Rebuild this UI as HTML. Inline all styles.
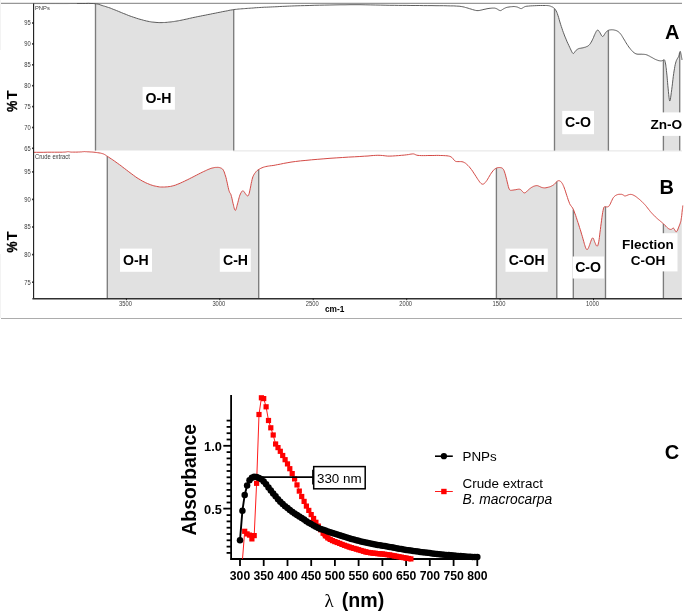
<!DOCTYPE html>
<html><head><meta charset="utf-8"><title>FTIR and UV-Vis</title>
<style>
html,body{margin:0;padding:0;background:#fff;}
svg{display:block;font-family:"Liberation Sans",sans-serif;}
.lab{font-weight:bold;font-size:14.1px;fill:#000;}
.big{font-weight:bold;font-size:20px;fill:#000;}
.tiny{font-size:6.4px;fill:#3c3c3c;}
.ct{font-weight:bold;font-size:11.3px;fill:#000;}
.lg{font-size:13.4px;fill:#000;}
</style></head><body>
<svg width="685" height="613" viewBox="0 0 685 613">
<rect width="685" height="613" fill="#fff"/>
<!-- frame lines -->
<line x1="1" y1="3.45" x2="682" y2="3.45" stroke="#979797" stroke-width="1.25"/>
<line x1="1" y1="318.5" x2="682" y2="318.5" stroke="#acacac" stroke-width="1.2"/>
<line x1="0.5" y1="0" x2="0.5" y2="50" stroke="#f3f3f3" stroke-width="1"/>
<line x1="0.5" y1="254" x2="0.5" y2="318" stroke="#f3f3f3" stroke-width="1"/>
<line x1="233" y1="150.9" x2="682" y2="150.9" stroke="#e4e4e4" stroke-width="1"/>
<!-- shaded regions -->
<polygon points="95.5,3.7 96.0,3.8 96.5,3.8 97.0,3.9 97.5,4.0 98.0,4.1 98.5,4.2 99.0,4.4 99.5,4.6 100.0,4.7 100.5,4.9 101.0,5.1 101.5,5.3 102.0,5.5 102.5,5.6 103.0,5.8 103.5,6.0 104.0,6.1 104.5,6.3 105.0,6.4 105.6,6.6 106.1,6.7 106.6,6.9 107.1,7.0 107.6,7.2 108.1,7.4 108.6,7.5 109.1,7.7 109.6,7.9 110.1,8.1 110.6,8.2 111.1,8.4 111.6,8.6 112.1,8.8 112.6,9.0 113.1,9.2 113.6,9.4 114.1,9.6 114.6,9.8 115.1,10.0 115.6,10.2 116.1,10.4 116.6,10.6 117.1,10.8 117.6,11.0 118.1,11.2 118.6,11.4 119.1,11.6 119.6,11.8 120.1,12.1 120.6,12.3 121.1,12.5 121.6,12.7 122.1,12.9 122.6,13.1 123.1,13.3 123.6,13.5 124.1,13.7 124.6,13.9 125.2,14.1 125.7,14.3 126.2,14.5 126.7,14.7 127.2,14.9 127.7,15.1 128.2,15.3 128.7,15.5 129.2,15.7 129.7,15.9 130.2,16.0 130.7,16.2 131.2,16.4 131.7,16.6 132.2,16.8 132.7,16.9 133.2,17.1 133.7,17.3 134.2,17.5 134.7,17.6 135.2,17.8 135.7,18.0 136.2,18.1 136.7,18.3 137.2,18.4 137.7,18.6 138.2,18.8 138.7,18.9 139.2,19.0 139.7,19.2 140.2,19.3 140.7,19.5 141.2,19.6 141.7,19.8 142.2,19.9 142.7,20.0 143.2,20.2 143.7,20.3 144.2,20.4 144.7,20.5 145.3,20.7 145.8,20.8 146.3,20.9 146.8,21.0 147.3,21.1 147.8,21.2 148.3,21.3 148.8,21.4 149.3,21.5 149.8,21.6 150.3,21.7 150.8,21.8 151.3,21.9 151.8,22.0 152.3,22.0 152.8,22.1 153.3,22.1 153.8,22.2 154.3,22.3 154.8,22.3 155.3,22.3 155.8,22.4 156.3,22.4 156.8,22.5 157.3,22.5 157.8,22.5 158.3,22.5 158.8,22.6 159.3,22.6 159.8,22.6 160.3,22.6 160.8,22.6 161.3,22.6 161.8,22.6 162.3,22.6 162.8,22.5 163.3,22.5 163.8,22.5 164.3,22.5 164.9,22.4 165.4,22.4 165.9,22.4 166.4,22.3 166.9,22.3 167.4,22.2 167.9,22.2 168.4,22.2 168.9,22.1 169.4,22.1 169.9,22.0 170.4,21.9 170.9,21.9 171.4,21.8 171.9,21.8 172.4,21.7 172.9,21.6 173.4,21.6 173.9,21.5 174.4,21.4 174.9,21.3 175.4,21.3 175.9,21.2 176.4,21.1 176.9,21.0 177.4,20.9 177.9,20.8 178.4,20.7 178.9,20.6 179.4,20.5 179.9,20.4 180.4,20.3 180.9,20.2 181.4,20.1 181.9,20.0 182.4,19.9 182.9,19.8 183.4,19.7 183.9,19.6 184.5,19.5 185.0,19.4 185.5,19.3 186.0,19.2 186.5,19.1 187.0,19.0 187.5,18.9 188.0,18.7 188.5,18.6 189.0,18.5 189.5,18.4 190.0,18.3 190.5,18.2 191.0,18.1 191.5,18.0 192.0,17.8 192.5,17.7 193.0,17.6 193.5,17.5 194.0,17.4 194.5,17.3 195.0,17.2 195.5,17.1 196.0,17.0 196.5,16.9 197.0,16.8 197.5,16.7 198.0,16.6 198.5,16.5 199.0,16.4 199.5,16.3 200.0,16.2 200.5,16.1 201.0,16.0 201.5,15.9 202.0,15.8 202.5,15.7 203.0,15.6 203.5,15.5 204.0,15.4 204.6,15.3 205.1,15.2 205.6,15.1 206.1,15.0 206.6,14.9 207.1,14.8 207.6,14.7 208.1,14.6 208.6,14.5 209.1,14.4 209.6,14.3 210.1,14.2 210.6,14.1 211.1,14.0 211.6,13.9 212.1,13.8 212.6,13.7 213.1,13.6 213.6,13.5 214.1,13.4 214.6,13.3 215.1,13.2 215.6,13.1 216.1,13.0 216.6,12.9 217.1,12.8 217.6,12.7 218.1,12.6 218.6,12.5 219.1,12.4 219.6,12.3 220.1,12.2 220.6,12.1 221.1,12.0 221.6,11.9 222.1,11.8 222.6,11.7 223.1,11.6 223.6,11.5 224.2,11.4 224.7,11.3 225.2,11.2 225.7,11.1 226.2,11.0 226.7,10.9 227.2,10.8 227.7,10.7 228.2,10.6 228.7,10.5 229.2,10.4 229.7,10.3 230.2,10.2 230.7,10.1 231.2,10.0 231.7,9.9 232.2,9.9 232.7,9.8 233.2,9.7 233.7,9.6 233.7,150.6 95.5,150.6" fill="#e1e1e1"/>
<line x1="95.5" y1="3.7" x2="95.5" y2="150.6" stroke="#7c7c7c" stroke-width="1.35"/>
<line x1="233.7" y1="9.6" x2="233.7" y2="150.6" stroke="#7c7c7c" stroke-width="1.35"/>
<polygon points="554.5,8.6 555.0,9.2 555.5,9.9 556.0,10.7 556.5,11.7 557.0,12.9 557.6,14.2 558.1,15.7 558.6,17.3 559.1,19.1 559.6,20.8 560.1,22.5 560.6,24.3 561.1,25.9 561.6,27.5 562.1,29.0 562.6,30.5 563.1,31.9 563.7,33.3 564.2,34.6 564.7,35.9 565.2,37.2 565.7,38.4 566.2,39.6 566.7,40.8 567.2,41.9 567.7,43.1 568.2,44.2 568.7,45.3 569.2,46.4 569.8,47.4 570.3,48.5 570.8,49.6 571.3,50.7 571.8,51.7 572.3,52.6 572.8,53.3 573.3,53.5 573.8,53.2 574.3,52.7 574.8,51.9 575.3,51.2 575.9,50.6 576.4,50.1 576.9,49.7 577.4,49.3 577.9,49.0 578.4,48.8 578.9,48.6 579.4,48.4 579.9,48.3 580.4,48.2 580.9,48.1 581.5,48.1 582.0,48.0 582.5,47.9 583.0,47.8 583.5,47.6 584.0,47.5 584.5,47.4 585.0,47.2 585.5,47.1 586.0,46.9 586.5,46.7 587.0,46.5 587.6,46.2 588.1,45.9 588.6,45.5 589.1,45.1 589.6,44.5 590.1,43.9 590.6,43.1 591.1,42.3 591.6,41.4 592.1,40.4 592.6,39.3 593.1,38.2 593.7,37.1 594.2,35.9 594.7,34.6 595.2,33.5 595.7,32.4 596.2,31.5 596.7,30.7 597.2,30.2 597.7,30.1 598.2,30.3 598.7,30.8 599.2,31.5 599.8,32.3 600.3,33.2 600.8,34.1 601.3,35.0 601.8,35.8 602.3,36.3 602.8,36.4 603.3,36.1 603.8,35.5 604.3,34.7 604.8,33.8 605.3,33.1 605.9,32.4 606.4,31.8 606.9,31.3 607.4,30.9 607.9,30.5 608.4,30.3 608.4,150.6 554.5,150.6" fill="#e1e1e1"/>
<line x1="554.5" y1="8.6" x2="554.5" y2="150.6" stroke="#7c7c7c" stroke-width="1.35"/>
<line x1="608.4" y1="30.3" x2="608.4" y2="150.6" stroke="#7c7c7c" stroke-width="1.35"/>
<polygon points="663.4,60.0 663.9,59.7 664.5,60.0 665.0,61.2 665.5,63.5 666.0,67.0 666.6,71.6 667.1,77.2 667.6,83.0 668.1,88.7 668.7,94.3 669.2,98.7 669.7,100.9 670.2,100.0 670.8,96.8 671.3,92.8 671.8,88.6 672.3,84.3 672.9,79.8 673.4,75.7 673.9,72.0 674.4,68.7 675.0,66.0 675.5,63.6 676.0,61.7 676.5,60.3 677.1,59.2 677.6,58.3 678.1,57.4 678.6,56.2 679.2,54.5 679.7,52.4 679.7,150.6 663.4,150.6" fill="#e1e1e1"/>
<line x1="663.4" y1="60.0" x2="663.4" y2="150.6" stroke="#7c7c7c" stroke-width="1.35"/>
<line x1="679.7" y1="52.4" x2="679.7" y2="150.6" stroke="#7c7c7c" stroke-width="1.35"/>
<polygon points="107.3,156.3 107.8,156.6 108.3,156.9 108.8,157.3 109.3,157.6 109.8,157.9 110.3,158.3 110.8,158.6 111.3,158.9 111.8,159.3 112.3,159.6 112.8,159.9 113.3,160.3 113.8,160.6 114.3,161.0 114.8,161.3 115.3,161.7 115.9,162.0 116.4,162.4 116.9,162.7 117.4,163.1 117.9,163.5 118.4,163.9 118.9,164.2 119.4,164.6 119.9,165.0 120.4,165.4 120.9,165.7 121.4,166.1 121.9,166.5 122.4,166.9 122.9,167.3 123.4,167.6 123.9,168.0 124.4,168.4 124.9,168.8 125.4,169.2 125.9,169.6 126.4,169.9 126.9,170.3 127.4,170.7 127.9,171.1 128.4,171.5 128.9,171.9 129.4,172.2 129.9,172.6 130.4,173.0 130.9,173.4 131.4,173.8 131.9,174.2 132.4,174.5 133.0,174.9 133.5,175.3 134.0,175.6 134.5,176.0 135.0,176.4 135.5,176.7 136.0,177.0 136.5,177.4 137.0,177.7 137.5,178.1 138.0,178.4 138.5,178.7 139.0,179.0 139.5,179.3 140.0,179.6 140.5,179.9 141.0,180.2 141.5,180.5 142.0,180.8 142.5,181.1 143.0,181.3 143.5,181.6 144.0,181.9 144.5,182.1 145.0,182.4 145.5,182.6 146.0,182.9 146.5,183.1 147.0,183.3 147.5,183.6 148.0,183.8 148.5,184.0 149.0,184.2 149.6,184.4 150.1,184.6 150.6,184.8 151.1,184.9 151.6,185.1 152.1,185.3 152.6,185.4 153.1,185.6 153.6,185.7 154.1,185.9 154.6,186.0 155.1,186.1 155.6,186.2 156.1,186.3 156.6,186.4 157.1,186.5 157.6,186.6 158.1,186.7 158.6,186.8 159.1,186.8 159.6,186.9 160.1,186.9 160.6,187.0 161.1,187.0 161.6,187.0 162.1,187.0 162.6,187.0 163.1,187.0 163.6,187.0 164.1,187.0 164.6,187.0 165.1,186.9 165.6,186.9 166.1,186.9 166.7,186.8 167.2,186.8 167.7,186.8 168.2,186.7 168.7,186.7 169.2,186.6 169.7,186.5 170.2,186.4 170.7,186.4 171.2,186.2 171.7,186.1 172.2,186.0 172.7,185.9 173.2,185.8 173.7,185.6 174.2,185.5 174.7,185.3 175.2,185.2 175.7,185.0 176.2,184.8 176.7,184.6 177.2,184.4 177.7,184.2 178.2,184.0 178.7,183.8 179.2,183.6 179.7,183.4 180.2,183.2 180.7,182.9 181.2,182.7 181.7,182.5 182.2,182.2 182.7,182.0 183.3,181.8 183.8,181.5 184.3,181.3 184.8,181.1 185.3,180.8 185.8,180.6 186.3,180.3 186.8,180.1 187.3,179.8 187.8,179.6 188.3,179.3 188.8,179.1 189.3,178.8 189.8,178.6 190.3,178.3 190.8,178.1 191.3,177.8 191.8,177.5 192.3,177.3 192.8,177.0 193.3,176.8 193.8,176.5 194.3,176.3 194.8,176.0 195.3,175.7 195.8,175.5 196.3,175.2 196.8,175.0 197.3,174.7 197.8,174.5 198.3,174.2 198.8,173.9 199.3,173.7 199.9,173.4 200.4,173.2 200.9,172.9 201.4,172.7 201.9,172.4 202.4,172.2 202.9,171.9 203.4,171.7 203.9,171.4 204.4,171.2 204.9,171.0 205.4,170.7 205.9,170.5 206.4,170.3 206.9,170.0 207.4,169.8 207.9,169.6 208.4,169.4 208.9,169.2 209.4,169.0 209.9,168.8 210.4,168.6 210.9,168.4 211.4,168.3 211.9,168.1 212.4,168.0 212.9,167.9 213.4,167.8 213.9,167.7 214.4,167.6 214.9,167.5 215.4,167.4 215.9,167.4 216.4,167.3 217.0,167.3 217.5,167.3 218.0,167.4 218.5,167.4 219.0,167.5 219.5,167.6 220.0,167.7 220.5,167.9 221.0,168.1 221.5,168.3 222.0,168.6 222.5,169.0 223.0,169.6 223.5,170.4 224.0,171.5 224.5,172.8 225.0,174.3 225.5,176.0 226.0,177.8 226.5,179.8 227.0,182.0 227.5,184.3 228.0,186.7 228.5,188.9 229.0,190.8 229.5,192.1 230.0,193.0 230.5,193.8 231.0,195.0 231.5,196.7 232.0,198.8 232.5,201.1 233.0,203.4 233.6,205.5 234.1,207.5 234.6,209.2 235.1,210.2 235.6,210.2 236.1,209.1 236.6,207.4 237.1,205.5 237.6,203.5 238.1,201.5 238.6,199.5 239.1,197.7 239.6,196.1 240.1,194.7 240.6,193.6 241.1,192.6 241.6,191.7 242.1,191.1 242.6,190.9 243.1,190.9 243.6,191.3 244.1,191.8 244.6,192.4 245.1,193.2 245.6,194.0 246.1,194.7 246.6,195.4 247.1,195.8 247.6,196.0 248.1,195.7 248.6,194.8 249.1,193.4 249.6,191.5 250.1,189.1 250.7,186.5 251.2,183.8 251.7,181.3 252.2,179.2 252.7,177.5 253.2,176.2 253.7,175.1 254.2,174.3 254.7,173.5 255.2,172.8 255.7,172.1 256.2,171.6 256.7,171.0 257.2,170.6 257.7,170.2 258.2,169.8 258.7,169.5 258.7,298.6 107.3,298.6" fill="#e1e1e1"/>
<line x1="107.3" y1="156.3" x2="107.3" y2="298.6" stroke="#7c7c7c" stroke-width="1.35"/>
<line x1="258.7" y1="169.5" x2="258.7" y2="298.6" stroke="#7c7c7c" stroke-width="1.35"/>
<polygon points="496.4,168.1 496.9,167.9 497.4,167.8 497.9,167.7 498.4,167.6 498.9,167.5 499.4,167.5 500.0,167.5 500.5,167.6 501.0,167.7 501.5,167.8 502.0,168.1 502.5,168.4 503.0,168.8 503.5,169.5 504.0,170.5 504.5,171.9 505.0,173.6 505.5,175.4 506.0,177.3 506.6,179.3 507.1,181.4 507.6,183.5 508.1,185.5 508.6,187.2 509.1,188.7 509.6,189.8 510.1,190.2 510.6,190.3 511.1,190.3 511.6,190.3 512.1,190.2 512.6,190.2 513.1,190.1 513.7,190.0 514.2,189.9 514.7,189.8 515.2,189.7 515.7,189.7 516.2,189.6 516.7,189.5 517.2,189.4 517.7,189.3 518.2,189.2 518.7,189.2 519.2,189.2 519.7,189.2 520.3,189.4 520.8,189.7 521.3,190.1 521.8,190.7 522.3,191.3 522.8,191.9 523.3,192.4 523.8,192.7 524.3,192.9 524.8,192.8 525.3,192.6 525.8,192.3 526.3,191.8 526.9,191.4 527.4,190.8 527.9,190.3 528.4,189.9 528.9,189.4 529.4,189.0 529.9,188.6 530.4,188.2 530.9,187.9 531.4,187.5 531.9,187.2 532.4,186.9 532.9,186.7 533.5,186.4 534.0,186.2 534.5,186.0 535.0,185.9 535.5,185.7 536.0,185.7 536.5,185.6 537.0,185.6 537.5,185.7 538.0,185.8 538.5,186.0 539.0,186.2 539.5,186.4 540.1,186.7 540.6,186.9 541.1,187.2 541.6,187.4 542.1,187.5 542.6,187.7 543.1,187.8 543.6,187.9 544.1,187.9 544.6,187.9 545.1,187.8 545.6,187.8 546.1,187.7 546.6,187.6 547.2,187.5 547.7,187.4 548.2,187.3 548.7,187.1 549.2,187.0 549.7,186.8 550.2,186.6 550.7,186.4 551.2,186.2 551.7,186.0 552.2,185.7 552.7,185.4 553.2,185.0 553.8,184.7 554.3,184.3 554.8,183.8 555.3,183.4 555.8,182.8 556.3,182.1 556.8,181.6 556.8,298.6 496.4,298.6" fill="#e1e1e1"/>
<line x1="496.4" y1="168.1" x2="496.4" y2="298.6" stroke="#7c7c7c" stroke-width="1.35"/>
<line x1="556.8" y1="181.6" x2="556.8" y2="298.6" stroke="#7c7c7c" stroke-width="1.35"/>
<polygon points="573.3,209.4 573.8,210.6 574.3,211.9 574.8,213.2 575.3,214.7 575.9,216.2 576.4,217.7 576.9,219.2 577.4,220.8 577.9,222.3 578.4,223.9 578.9,225.5 579.4,227.1 579.9,228.7 580.5,230.4 581.0,232.0 581.5,233.7 582.0,235.4 582.5,237.1 583.0,238.9 583.5,240.8 584.0,242.6 584.5,244.4 585.1,246.0 585.6,247.4 586.1,248.6 586.6,249.4 587.1,249.6 587.6,249.2 588.1,248.4 588.6,247.4 589.1,246.2 589.7,244.8 590.2,243.3 590.7,241.8 591.2,240.3 591.7,239.1 592.2,238.2 592.7,237.9 593.2,238.3 593.7,239.3 594.3,240.7 594.8,242.1 595.3,243.4 595.8,244.5 596.3,245.5 596.8,246.1 597.3,246.1 597.8,245.3 598.3,243.7 598.9,241.1 599.4,237.6 599.9,233.5 600.4,229.3 600.9,225.3 601.4,221.5 601.9,217.7 602.4,214.2 602.9,211.0 603.5,208.6 604.0,207.2 604.5,206.8 605.0,206.6 605.5,206.7 605.5,298.6 573.3,298.6" fill="#e1e1e1"/>
<line x1="573.3" y1="209.4" x2="573.3" y2="298.6" stroke="#7c7c7c" stroke-width="1.35"/>
<line x1="605.5" y1="206.7" x2="605.5" y2="298.6" stroke="#7c7c7c" stroke-width="1.35"/>
<polygon points="663.4,223.8 663.9,224.3 664.5,224.8 665.0,225.3 665.5,225.9 666.0,226.4 666.6,226.9 667.1,227.4 667.6,227.9 668.1,228.4 668.7,228.7 669.2,229.0 669.7,229.2 670.2,229.3 670.8,229.4 671.3,229.3 671.8,229.1 672.3,228.6 672.9,228.2 673.4,228.1 673.9,228.6 674.4,229.4 675.0,230.3 675.5,231.2 676.0,231.6 676.5,231.6 677.1,231.0 677.6,230.0 678.1,228.6 678.6,227.3 679.2,225.9 679.7,224.6 680.2,223.1 680.7,221.3 681.3,218.7 681.8,214.6 681.8,298.6 663.4,298.6" fill="#e1e1e1"/>
<line x1="663.4" y1="223.8" x2="663.4" y2="298.6" stroke="#7c7c7c" stroke-width="1.35"/>
<!-- curves -->
<polyline points="33.6,3.6 37.2,3.6 41.2,3.6 45.8,3.6 50.6,3.6 55.3,3.6 59.6,3.6 63.6,3.6 67.2,3.6 70.6,3.5 73.8,3.5 76.9,3.5" fill="none" stroke="#555" stroke-width="0.9" opacity="0.45"/><polyline points="76.9,3.5 80.0,3.5 82.9,3.5 85.7,3.5 88.5,3.4 91.0,3.5 93.2,3.5 95.2,3.7 96.8,3.9 98.1,4.1 99.1,4.4 100.1,4.8 101.0,5.1 102.1,5.5 103.3,5.9 104.5,6.2 105.8,6.6 107.2,7.1 108.6,7.5 110.1,8.0 111.6,8.6 113.2,9.3 114.9,9.9 116.6,10.6 118.3,11.3 120.0,12.0 121.7,12.7 123.3,13.4 125.0,14.0 126.7,14.7 128.3,15.4 130.0,16.0 131.7,16.6 133.4,17.2 135.0,17.7 136.7,18.3 138.4,18.8 140.0,19.3 141.7,19.7 143.3,20.2 144.9,20.6 146.5,21.0 148.0,21.3 149.4,21.6 150.7,21.8 151.8,22.0 152.9,22.1 154.0,22.2 155.0,22.3 156.0,22.4 157.0,22.5 158.0,22.5 158.9,22.6 159.9,22.6 161.0,22.6 162.1,22.6 163.3,22.5 164.6,22.5 165.9,22.4 167.3,22.3 168.7,22.1 169.9,22.0 171.2,21.9 172.3,21.7 173.5,21.6 174.6,21.4 175.8,21.2 177.0,21.0 178.3,20.8 179.6,20.5 180.9,20.3 182.2,20.0 183.6,19.7 185.0,19.4 186.5,19.1 187.9,18.8 189.4,18.4 190.9,18.1 192.5,17.7 194.0,17.4 195.6,17.1 197.3,16.7 198.9,16.4 200.6,16.1 202.3,15.7 204.0,15.4 205.7,15.1 207.3,14.7 209.0,14.4 210.7,14.1 212.3,13.7 214.0,13.4 215.7,13.1 217.3,12.7 219.0,12.4 220.7,12.1 222.3,11.7 224.0,11.4 225.7,11.1 227.3,10.8 228.9,10.4 230.6,10.1 232.1,9.9 233.7,9.6 235.1,9.4 236.6,9.3 237.9,9.1 239.3,9.0 240.6,8.9 242.0,8.8 243.3,8.7 244.6,8.6 245.9,8.5 247.2,8.4 248.6,8.3 250.1,8.2 251.6,8.1 253.2,8.0 254.9,7.8 256.6,7.7 258.3,7.6 259.9,7.5 261.6,7.4 263.1,7.3 264.7,7.2 266.4,7.2 268.2,7.1 270.2,7.0 272.4,6.9 274.7,6.8 277.2,6.7 279.8,6.5 282.4,6.4 284.9,6.3 287.2,6.2 289.4,6.1 291.7,6.0 294.2,5.9 297.1,5.8 300.5,5.7 304.6,5.6 309.2,5.5 314.2,5.3 319.4,5.2 324.7,5.1 329.9,5.0 335.0,4.9 340.0,4.8 345.0,4.8 350.0,4.7 355.0,4.7 360.0,4.7 365.1,4.8 370.2,4.9 375.3,5.0 380.3,5.1 385.1,5.2 389.8,5.3 394.3,5.3 398.6,5.4 402.8,5.4 406.9,5.4 410.9,5.5 415.1,5.5 419.3,5.5 423.5,5.6 427.8,5.6 432.0,5.6 436.0,5.7 439.9,5.7 443.6,5.7 447.2,5.8 450.6,5.9 453.8,5.9 456.7,6.1 459.1,6.2 461.2,6.5 462.9,6.8 464.3,7.1 465.5,7.5 466.8,7.8 468.1,8.2 469.6,8.7 471.1,9.1 472.6,9.6 474.1,10.0 475.6,10.4 476.9,10.6 478.1,10.6 479.2,10.5 480.2,10.3 481.1,10.1 482.1,9.9 483.0,9.6 484.0,9.4 485.0,9.2 486.0,9.0 487.0,8.7 488.0,8.6 489.0,8.4 490.1,8.3 491.2,8.2 492.3,8.1 493.4,8.1 494.5,8.1 495.4,8.3 496.3,8.6 497.2,9.0 497.9,9.5 498.7,10.0 499.3,10.3 500.0,10.5 500.5,10.6 501.1,10.4 501.5,10.2 502.0,9.9 502.5,9.5 503.0,9.2 503.5,8.9 504.0,8.6 504.6,8.3 505.2,8.0 505.9,7.7 506.8,7.4 507.8,7.2 509.0,7.0 510.3,6.8 511.6,6.7 512.8,6.6 513.9,6.5 514.8,6.6 515.6,6.7 516.2,6.8 516.8,6.9 517.4,7.1 518.0,7.3 518.5,7.6 519.1,7.8 519.6,8.1 520.1,8.4 520.5,8.5 521.0,8.6 521.4,8.6 521.8,8.4 522.2,8.2 522.7,7.9 523.1,7.7 523.5,7.4 523.8,7.2 524.1,7.0 524.5,6.8 525.0,6.6 525.7,6.4 526.9,6.2 528.4,6.1 530.3,5.9 532.4,5.8 534.7,5.7 536.8,5.6 538.9,5.5 540.7,5.5 542.4,5.5 544.0,5.5 545.4,5.5 546.7,5.5 547.8,5.6 548.7,5.7 549.3,5.8 549.9,6.0 550.3,6.1 550.7,6.3 551.1,6.5 551.6,6.7 552.1,6.9 552.7,7.1 553.2,7.4 553.7,7.8 554.2,8.3 554.7,8.8 555.2,9.4 555.7,10.1 556.2,11.0 556.8,12.2 557.3,13.6 557.9,15.3 558.6,17.4 559.2,19.6 559.9,22.0 560.6,24.3 561.3,26.5 562.0,28.5 562.6,30.4 563.3,32.3 564.0,34.1 564.7,36.0 565.5,37.9 566.3,39.8 567.1,41.8 568.0,43.7 568.9,45.6 569.7,47.3 570.4,48.8 571.0,50.1 571.5,51.2 572.0,52.1 572.4,52.8 572.8,53.3 573.2,53.5 573.6,53.4 574.0,53.1 574.4,52.6 574.8,51.9 575.3,51.3 575.7,50.8 576.1,50.3 576.6,49.9 577.1,49.5 577.6,49.2 578.1,48.9 578.8,48.6 579.5,48.4 580.3,48.3 581.1,48.1 582.0,48.0 582.9,47.8 583.8,47.6 584.7,47.3 585.6,47.1 586.4,46.7 587.3,46.4 588.1,45.9 588.8,45.3 589.5,44.6 590.2,43.8 590.7,42.9 591.3,42.0 591.9,40.9 592.4,39.8 593.0,38.6 593.6,37.3 594.1,35.9 594.7,34.6 595.2,33.5 595.7,32.5 596.1,31.7 596.4,31.1 596.8,30.6 597.1,30.3 597.4,30.2 597.7,30.1 598.0,30.2 598.4,30.4 598.7,30.8 599.1,31.2 599.4,31.8 599.8,32.4 600.2,33.1 600.7,34.0 601.2,34.9 601.6,35.7 602.1,36.2 602.6,36.5 603.0,36.4 603.5,36.0 603.9,35.3 604.4,34.6 604.8,33.8 605.3,33.2 605.7,32.6 606.2,32.0 606.7,31.5 607.2,31.0 607.8,30.6 608.5,30.3 609.4,30.0 610.3,29.9 611.3,29.8 612.4,29.8 613.5,29.9 614.5,30.1 615.4,30.3 616.3,30.6 617.2,31.0 618.0,31.5 618.8,32.1 619.6,32.8 620.3,33.6 621.0,34.5 621.7,35.5 622.3,36.5 623.0,37.7 623.7,38.9 624.5,40.1 625.3,41.5 626.1,42.9 627.0,44.3 627.9,45.6 628.8,47.0 629.8,48.2 630.8,49.5 631.8,50.6 632.8,51.7 633.9,52.6 634.9,53.3 635.9,53.8 637.0,54.1 638.0,54.2 639.0,54.2 640.0,54.2 641.0,54.2 641.9,54.2 642.8,54.3 643.7,54.3 644.5,54.4 645.4,54.5 646.2,54.7 647.0,55.0 647.9,55.3 648.7,55.8 649.6,56.2 650.4,56.7 651.3,57.2 652.3,57.7 653.3,58.3 654.4,58.9 655.4,59.4 656.4,59.8 657.4,60.2 658.2,60.5 659.1,60.7 659.8,60.8 660.6,60.9 661.2,60.9 661.8,60.8 662.4,60.6 662.9,60.4 663.3,60.1 663.6,59.8 664.0,59.7 664.3,59.8 664.6,60.1 664.8,60.6 665.0,61.3 665.2,62.1 665.4,63.0 665.6,64.0 665.8,65.1 665.9,66.3 666.1,67.6 666.3,68.9 666.4,70.5 666.6,72.1 666.8,74.0 667.0,75.9 667.2,78.1 667.4,80.3 667.6,82.7 667.8,85.3 668.1,88.1 668.4,91.3 668.7,94.4 669.0,97.3 669.3,99.5 669.6,100.8 669.9,101.0 670.1,100.4 670.4,99.1 670.7,97.2 671.0,95.0 671.3,92.5 671.7,89.7 672.1,86.6 672.5,83.2 672.9,79.7 673.3,76.4 673.7,73.5 674.1,70.9 674.5,68.6 674.8,66.6 675.2,64.7 675.6,63.1 676.0,61.7 676.4,60.5 676.9,59.5 677.3,58.7 677.8,58.0 678.2,57.3 678.6,56.5 678.9,55.5 679.2,54.5 679.4,53.4 679.7,52.5 679.9,51.8 680.1,51.4 680.3,51.4 680.5,51.8 680.6,52.3 680.8,53.1 680.9,53.9 681.1,54.7 681.3,55.6 681.4,56.6 681.6,57.5 681.8,58.5 681.9,59.3 682.0,60.0" fill="none" stroke="#555" stroke-width="0.95"/>
<polyline points="33.6,152.3 36.6,152.3 40.0,152.3 43.8,152.3 47.7,152.2 51.3,152.2 54.5,152.2 57.1,152.2 59.2,152.2 61.0,152.2 62.5,152.2 63.7,152.1 64.8,152.1 65.7,152.0 66.4,151.9 66.9,151.8 67.3,151.7 67.6,151.7 68.0,151.6 68.4,151.7 68.8,151.7 69.2,151.8 69.7,151.9 70.3,152.0 71.2,152.1 72.4,152.1 73.9,152.1 75.4,152.1 77.0,152.1 78.5,152.0 79.8,152.0 80.8,151.9 81.6,151.9 82.2,151.8 82.8,151.7 83.4,151.7 84.1,151.6 84.8,151.6 85.6,151.7 86.4,151.7 87.2,151.8 88.1,151.8 89.0,151.9 89.9,151.9 90.9,152.0 91.8,152.0 92.9,152.1 93.9,152.2 95.1,152.3 96.3,152.5 97.7,152.7 99.0,152.9 100.4,153.1 101.6,153.4 102.7,153.7 103.6,154.0 104.4,154.4 105.1,154.8 105.7,155.2 106.5,155.8 107.5,156.4 108.6,157.1 109.9,158.0 111.3,158.9 112.8,159.9 114.4,161.0 116.0,162.2 117.7,163.4 119.4,164.6 121.2,165.9 122.9,167.3 124.7,168.6 126.5,170.0 128.2,171.3 130.0,172.7 131.8,174.0 133.5,175.3 135.3,176.6 137.0,177.8 138.8,178.9 140.5,179.9 142.3,181.0 144.1,181.9 145.8,182.8 147.5,183.5 149.1,184.2 150.7,184.8 152.2,185.3 153.8,185.8 155.2,186.1 156.7,186.4 158.0,186.7 159.4,186.9 160.6,187.0 161.9,187.0 163.3,187.0 164.6,187.0 166.1,186.9 167.5,186.8 169.1,186.6 170.6,186.4 172.2,186.0 173.8,185.6 175.5,185.1 177.2,184.4 179.0,183.7 180.8,182.9 182.5,182.1 184.3,181.3 186.0,180.4 187.8,179.6 189.5,178.7 191.3,177.8 193.1,176.9 194.8,176.0 196.6,175.1 198.5,174.1 200.3,173.2 202.1,172.3 203.7,171.5 205.3,170.8 206.6,170.2 207.8,169.6 208.9,169.2 209.9,168.8 210.9,168.4 211.9,168.1 212.9,167.9 213.8,167.7 214.7,167.5 215.6,167.4 216.4,167.4 217.2,167.3 217.9,167.4 218.6,167.4 219.3,167.5 219.9,167.7 220.5,167.9 221.1,168.1 221.6,168.4 222.0,168.7 222.5,169.0 222.9,169.5 223.3,170.1 223.7,170.9 224.2,171.9 224.6,173.1 225.0,174.5 225.5,176.0 226.0,177.6 226.4,179.3 226.8,181.2 227.3,183.2 227.7,185.3 228.2,187.4 228.6,189.2 229.0,190.7 229.4,191.7 229.7,192.5 230.1,193.0 230.4,193.5 230.8,194.2 231.1,195.2 231.5,196.6 231.9,198.2 232.3,200.1 232.7,201.9 233.1,203.7 233.5,205.2 233.8,206.6 234.1,207.8 234.4,208.9 234.7,209.7 235.0,210.2 235.3,210.4 235.6,210.2 235.9,209.6 236.2,208.8 236.5,207.8 236.8,206.6 237.1,205.3 237.5,203.9 237.9,202.4 238.3,200.8 238.7,199.2 239.1,197.7 239.5,196.3 239.9,195.1 240.4,194.0 240.8,193.1 241.3,192.3 241.7,191.6 242.1,191.2 242.4,190.9 242.8,190.8 243.1,190.9 243.5,191.1 243.8,191.5 244.3,191.9 244.7,192.6 245.2,193.4 245.8,194.2 246.4,195.0 246.9,195.6 247.3,195.9 247.8,196.0 248.1,195.7 248.5,195.2 248.8,194.4 249.2,193.4 249.5,192.0 249.9,190.2 250.3,188.2 250.8,185.8 251.2,183.5 251.7,181.4 252.1,179.5 252.5,178.0 252.9,176.8 253.3,175.8 253.8,175.0 254.2,174.2 254.7,173.4 255.3,172.7 255.8,171.9 256.5,171.2 257.1,170.6 257.9,170.0 258.8,169.4 259.8,168.9 260.8,168.3 262.0,167.8 263.2,167.3 264.5,166.9 265.8,166.6 267.1,166.3 268.4,166.1 269.7,165.9 271.3,165.7 273.1,165.5 275.3,165.1 277.7,164.6 280.5,164.1 283.7,163.4 287.1,162.8 291.0,162.1 295.4,161.5 300.4,160.9 305.9,160.4 311.7,159.8 317.8,159.3 323.9,158.8 330.0,158.3 336.2,157.9 342.4,157.5 348.6,157.1 354.5,156.8 359.8,156.5 364.3,156.2 368.0,156.0 370.9,155.7 373.3,155.5 375.3,155.4 377.2,155.3 379.0,155.3 380.8,155.4 382.5,155.5 384.1,155.7 385.8,155.9 387.7,156.1 389.9,156.1 392.5,156.0 395.4,155.8 398.5,155.6 401.5,155.3 404.3,155.1 406.6,154.8 408.4,154.6 409.8,154.3 410.9,154.1 411.9,154.0 412.7,153.9 413.4,153.9 414.1,154.0 414.7,154.3 415.3,154.6 416.0,154.9 416.8,155.2 418.0,155.4 419.5,155.5 421.4,155.6 423.4,155.6 425.6,155.6 427.8,155.5 430.0,155.5 432.1,155.5 434.2,155.5 436.3,155.4 438.3,155.4 440.3,155.5 442.1,155.5 443.8,155.6 445.5,155.7 447.0,155.8 448.4,156.0 449.7,156.3 450.9,156.8 451.8,157.4 452.6,158.2 453.3,159.1 454.0,160.0 454.7,160.7 455.6,161.3 456.7,161.6 457.9,161.6 459.2,161.6 460.6,161.6 461.9,161.7 463.2,162.0 464.4,162.6 465.6,163.3 466.7,164.3 467.9,165.4 469.1,166.6 470.2,168.0 471.4,169.5 472.6,171.2 473.8,173.1 475.0,174.9 476.1,176.6 477.1,178.2 478.0,179.6 478.9,180.8 479.6,181.9 480.4,182.8 481.1,183.5 481.8,184.0 482.5,184.2 483.2,184.1 483.9,183.8 484.6,183.2 485.3,182.5 486.0,181.6 486.9,180.4 487.7,179.1 488.6,177.5 489.5,176.0 490.4,174.5 491.3,173.1 492.1,172.0 492.9,171.0 493.6,170.1 494.4,169.3 495.3,168.7 496.2,168.2 497.2,167.8 498.3,167.6 499.4,167.5 500.5,167.6 501.5,167.8 502.4,168.3 503.1,168.9 503.6,169.7 504.1,170.7 504.5,171.9 505.0,173.4 505.5,175.1 506.0,177.1 506.6,179.4 507.2,181.9 507.8,184.3 508.3,186.4 508.8,188.1 509.3,189.2 509.6,189.8 510.0,190.2 510.4,190.3 510.8,190.3 511.4,190.3 512.2,190.2 513.1,190.1 514.1,189.9 515.2,189.8 516.1,189.6 517.0,189.4 517.7,189.3 518.4,189.2 519.0,189.2 519.5,189.2 520.1,189.3 520.6,189.6 521.2,190.1 521.8,190.7 522.5,191.5 523.1,192.2 523.7,192.7 524.4,192.9 525.1,192.8 525.8,192.3 526.6,191.6 527.3,190.9 528.1,190.2 528.8,189.5 529.5,188.9 530.3,188.3 531.0,187.8 531.7,187.3 532.5,186.9 533.2,186.5 533.9,186.2 534.6,186.0 535.3,185.8 536.1,185.7 536.8,185.6 537.6,185.7 538.5,186.0 539.4,186.4 540.3,186.8 541.3,187.3 542.4,187.6 543.5,187.8 544.6,187.9 545.9,187.8 547.1,187.5 548.4,187.2 549.5,186.9 550.6,186.5 551.6,186.0 552.4,185.6 553.2,185.1 553.9,184.6 554.5,184.1 555.0,183.6 555.4,183.2 555.8,182.8 556.0,182.4 556.3,182.1 556.5,181.8 556.9,181.5 557.2,181.3 557.6,181.0 558.1,180.8 558.6,180.7 559.0,180.7 559.5,180.8 560.0,181.0 560.5,181.3 560.9,181.7 561.4,182.3 561.9,182.9 562.4,183.7 562.9,184.6 563.3,185.6 563.8,186.7 564.3,188.0 564.8,189.5 565.4,191.1 566.0,193.1 566.7,195.3 567.5,197.6 568.2,199.9 569.0,201.9 569.6,203.6 570.3,204.9 570.9,205.7 571.4,206.4 572.0,207.1 572.6,208.0 573.3,209.3 574.0,211.0 574.7,213.0 575.6,215.3 576.4,217.7 577.2,220.2 578.0,222.6 578.8,225.0 579.5,227.4 580.3,229.7 581.0,232.0 581.6,234.2 582.3,236.3 582.8,238.2 583.3,240.0 583.8,241.7 584.2,243.2 584.6,244.6 585.0,245.8 585.3,246.9 585.7,247.8 586.0,248.5 586.3,249.1 586.7,249.5 587.0,249.6 587.4,249.5 587.7,249.1 588.1,248.5 588.5,247.7 588.9,246.8 589.3,245.7 589.8,244.4 590.3,242.8 590.9,241.2 591.4,239.7 592.0,238.5 592.5,237.9 592.9,238.0 593.4,238.5 593.8,239.5 594.2,240.6 594.6,241.7 595.0,242.7 595.4,243.6 595.7,244.4 596.1,245.1 596.4,245.7 596.8,246.1 597.1,246.2 597.4,246.0 597.7,245.7 598.0,245.0 598.2,244.1 598.5,242.9 598.8,241.4 599.1,239.6 599.4,237.4 599.7,234.9 600.0,232.2 600.4,229.5 600.7,226.7 601.1,223.8 601.5,220.8 601.9,217.7 602.3,214.9 602.7,212.4 603.1,210.4 603.4,208.9 603.6,208.0 603.8,207.4 604.1,207.1 604.3,206.9 604.6,206.7 605.0,206.6 605.3,206.6 605.7,206.7 606.2,206.8 606.6,206.9 607.0,206.9 607.4,206.9 607.8,206.8 608.2,206.7 608.6,206.5 609.0,206.0 609.5,205.3 610.1,204.3 610.7,203.1 611.3,201.6 612.0,200.2 612.6,198.8 613.3,197.7 614.0,196.8 614.7,196.2 615.4,195.6 616.1,195.2 616.8,194.9 617.5,194.6 618.3,194.4 619.1,194.3 619.9,194.3 620.7,194.3 621.5,194.3 622.1,194.5 622.7,194.7 623.2,195.0 623.7,195.3 624.1,195.6 624.6,195.9 625.2,195.9 625.8,195.9 626.5,195.6 627.2,195.3 628.0,195.0 628.7,194.7 629.5,194.5 630.2,194.4 630.9,194.4 631.6,194.5 632.4,194.7 633.1,195.0 633.9,195.4 634.8,195.9 635.8,196.5 636.7,197.2 637.7,198.0 638.7,198.8 639.7,199.6 640.7,200.5 641.7,201.4 642.7,202.4 643.6,203.4 644.6,204.4 645.6,205.5 646.6,206.7 647.5,207.9 648.5,209.2 649.5,210.4 650.4,211.6 651.4,212.7 652.4,213.8 653.4,214.8 654.3,215.8 655.3,216.8 656.3,217.7 657.3,218.6 658.3,219.5 659.4,220.3 660.4,221.2 661.4,222.0 662.4,222.9 663.4,223.7 664.3,224.6 665.1,225.5 666.0,226.3 666.7,227.1 667.5,227.8 668.2,228.4 668.8,228.8 669.4,229.1 669.9,229.3 670.5,229.4 670.9,229.4 671.4,229.3 671.8,229.1 672.1,228.8 672.5,228.5 672.8,228.2 673.2,228.1 673.5,228.2 674.0,228.6 674.4,229.3 674.9,230.2 675.4,231.0 675.8,231.6 676.3,231.7 676.7,231.5 677.2,230.9 677.6,230.0 678.0,229.0 678.4,227.9 678.8,226.9 679.2,225.9 679.6,224.9 680.0,223.9 680.3,222.8 680.7,221.7 681.0,220.4 681.2,218.9 681.5,217.3 681.7,215.7 681.9,214.0 682.0,212.4 682.2,211.0 682.3,209.8 682.5,208.7 682.6,207.7 682.7,206.9 682.7,206.1 682.8,205.5" fill="none" stroke="#d44a46" stroke-width="1"/>
<!-- axes A/B -->
<line x1="33.6" y1="3.5" x2="33.6" y2="299" stroke="#1a1a1a" stroke-width="1.1"/>
<line x1="32.4" y1="298.8" x2="682" y2="298.8" stroke="#303030" stroke-width="1.6"/>
<line x1="126.4" y1="298" x2="126.4" y2="300.2" stroke="#222" stroke-width="1"/><line x1="219.8" y1="298" x2="219.8" y2="300.2" stroke="#222" stroke-width="1"/><line x1="313.2" y1="298" x2="313.2" y2="300.2" stroke="#222" stroke-width="1"/><line x1="406.7" y1="298" x2="406.7" y2="300.2" stroke="#222" stroke-width="1"/><line x1="500.1" y1="298" x2="500.1" y2="300.2" stroke="#222" stroke-width="1"/><line x1="593.5" y1="298" x2="593.5" y2="300.2" stroke="#222" stroke-width="1"/>
<rect x="32.2" y="22.2" width="1.4" height="1.6" fill="#111"/><rect x="32.2" y="43.1" width="1.4" height="1.6" fill="#111"/><rect x="32.2" y="64.0" width="1.4" height="1.6" fill="#111"/><rect x="32.2" y="84.9" width="1.4" height="1.6" fill="#111"/><rect x="32.2" y="105.8" width="1.4" height="1.6" fill="#111"/><rect x="32.2" y="126.7" width="1.4" height="1.6" fill="#111"/><rect x="32.2" y="147.5" width="1.4" height="1.6" fill="#111"/><rect x="32.2" y="171.1" width="1.4" height="1.6" fill="#111"/><rect x="32.2" y="198.6" width="1.4" height="1.6" fill="#111"/><rect x="32.2" y="226.2" width="1.4" height="1.6" fill="#111"/><rect x="32.2" y="253.8" width="1.4" height="1.6" fill="#111"/><rect x="32.2" y="281.4" width="1.4" height="1.6" fill="#111"/>
<g class="tiny"><text x="119.0" y="306.3" textLength="12.9" lengthAdjust="spacingAndGlyphs">3500</text><text x="212.4" y="306.3" textLength="12.9" lengthAdjust="spacingAndGlyphs">3000</text><text x="305.8" y="306.3" textLength="12.9" lengthAdjust="spacingAndGlyphs">2500</text><text x="399.2" y="306.3" textLength="12.9" lengthAdjust="spacingAndGlyphs">2000</text><text x="492.6" y="306.3" textLength="12.9" lengthAdjust="spacingAndGlyphs">1500</text><text x="586.0" y="306.3" textLength="12.9" lengthAdjust="spacingAndGlyphs">1000</text><text x="24.2" y="25.4" textLength="6.5" lengthAdjust="spacingAndGlyphs">95</text><text x="24.2" y="46.2" textLength="6.5" lengthAdjust="spacingAndGlyphs">90</text><text x="24.2" y="67.1" textLength="6.5" lengthAdjust="spacingAndGlyphs">85</text><text x="24.2" y="88.0" textLength="6.5" lengthAdjust="spacingAndGlyphs">80</text><text x="24.2" y="108.9" textLength="6.5" lengthAdjust="spacingAndGlyphs">75</text><text x="24.2" y="129.8" textLength="6.5" lengthAdjust="spacingAndGlyphs">70</text><text x="24.2" y="150.7" textLength="6.5" lengthAdjust="spacingAndGlyphs">65</text><text x="24.2" y="174.2" textLength="6.5" lengthAdjust="spacingAndGlyphs">95</text><text x="24.2" y="201.8" textLength="6.5" lengthAdjust="spacingAndGlyphs">90</text><text x="24.2" y="229.3" textLength="6.5" lengthAdjust="spacingAndGlyphs">85</text><text x="24.2" y="256.9" textLength="6.5" lengthAdjust="spacingAndGlyphs">80</text><text x="24.2" y="284.6" textLength="6.5" lengthAdjust="spacingAndGlyphs">75</text>
<text x="35" y="10.4" style="font-size:5.8px">PNPs</text>
<text x="35" y="158.8" style="font-size:6.4px" textLength="34.8" lengthAdjust="spacingAndGlyphs">Crude extract</text>
</g>
<text x="334.6" y="312.3" text-anchor="middle" style="font-weight:bold;font-size:8.3px">cm-1</text>
<text class="lab" transform="translate(17.1,111.7) rotate(-90)" style="font-size:15px;stroke:#000;stroke-width:0.4px" textLength="11" lengthAdjust="spacingAndGlyphs">%</text>
<text class="lab" transform="translate(17.1,99.6) rotate(-90)" style="font-size:15px">T</text>
<text class="lab" transform="translate(17.1,252.5) rotate(-90)" style="font-size:15px;stroke:#000;stroke-width:0.4px" textLength="11" lengthAdjust="spacingAndGlyphs">%</text>
<text class="lab" transform="translate(17.1,240.4) rotate(-90)" style="font-size:15px">T</text>
<!-- label boxes -->
<g fill="#fff">
<rect x="142.6" y="86.9" width="32.3" height="22.8"/>
<rect x="562.2" y="110.9" width="31.8" height="23.3"/>
<rect x="649" y="112.4" width="36" height="23.5"/>
<rect x="120" y="248.6" width="32" height="23.2"/>
<rect x="219.8" y="248.6" width="31" height="23.2"/>
<rect x="505.5" y="248.6" width="42.3" height="23.2"/>
<rect x="572.5" y="256.5" width="31.6" height="22"/>
<rect x="620.5" y="233.2" width="57" height="38.2"/>
</g>
<g class="lab" text-anchor="middle">
<text x="158.5" y="103.3">O-H</text>
<text x="578" y="127.2">C-O</text>
<text x="666.3" y="128.9" style="font-size:13.6px">Zn-O</text>
<text x="135.9" y="265.2">O-H</text>
<text x="235.5" y="265.2">C-H</text>
<text x="526.7" y="265.2">C-OH</text>
<text x="588.1" y="271.8">C-O</text>
<text x="648" y="248.6" style="font-size:13.5px">Flection</text>
<text x="648" y="265" style="font-size:13.5px">C-OH</text>
</g>
<text class="big" x="665" y="39.4">A</text>
<text class="big" x="659.6" y="193.9">B</text>
<text class="big" x="664.8" y="459.4">C</text>

<!-- Panel C -->
<g stroke="#000" stroke-width="1.8">
<line x1="231.1" y1="395" x2="231.1" y2="559.9"/>
<line x1="230.6" y1="559" x2="478" y2="559"/>
<line x1="226.6" y1="420.6" x2="231.1" y2="420.6"/><line x1="226.6" y1="426.9" x2="231.1" y2="426.9"/><line x1="226.6" y1="433.2" x2="231.1" y2="433.2"/><line x1="226.6" y1="439.5" x2="231.1" y2="439.5"/><line x1="226.6" y1="452.1" x2="231.1" y2="452.1"/><line x1="226.6" y1="458.4" x2="231.1" y2="458.4"/><line x1="226.6" y1="464.7" x2="231.1" y2="464.7"/><line x1="226.6" y1="471.0" x2="231.1" y2="471.0"/><line x1="226.6" y1="477.3" x2="231.1" y2="477.3"/><line x1="226.6" y1="483.6" x2="231.1" y2="483.6"/><line x1="226.6" y1="489.9" x2="231.1" y2="489.9"/><line x1="226.6" y1="496.2" x2="231.1" y2="496.2"/><line x1="226.6" y1="502.5" x2="231.1" y2="502.5"/><line x1="226.6" y1="515.1" x2="231.1" y2="515.1"/><line x1="226.6" y1="521.4" x2="231.1" y2="521.4"/><line x1="226.6" y1="527.7" x2="231.1" y2="527.7"/><line x1="226.6" y1="534.0" x2="231.1" y2="534.0"/><line x1="226.6" y1="540.3" x2="231.1" y2="540.3"/><line x1="226.6" y1="546.6" x2="231.1" y2="546.6"/><line x1="226.6" y1="552.9" x2="231.1" y2="552.9"/><line x1="223.3" y1="445.8" x2="231.1" y2="445.8"/><line x1="223.3" y1="508.6" x2="231.1" y2="508.6"/><line x1="240.0" y1="559" x2="240.0" y2="566"/><line x1="263.7" y1="559" x2="263.7" y2="566"/><line x1="287.5" y1="559" x2="287.5" y2="566"/><line x1="311.2" y1="559" x2="311.2" y2="566"/><line x1="334.9" y1="559" x2="334.9" y2="566"/><line x1="358.6" y1="559" x2="358.6" y2="566"/><line x1="382.4" y1="559" x2="382.4" y2="566"/><line x1="406.1" y1="559" x2="406.1" y2="566"/><line x1="429.8" y1="559" x2="429.8" y2="566"/><line x1="453.6" y1="559" x2="453.6" y2="566"/><line x1="477.3" y1="559" x2="477.3" y2="566"/>
</g>
<g fill="#f00"><polyline points="242.5,559.0 244.7,531.3 247.1,533.9 249.5,535.1 251.9,538.9 254.2,535.6 256.6,483.3 259.0,414.5 261.4,397.8 263.7,398.6 266.1,406.8 268.5,420.5 270.8,427.8 273.2,435.0 275.6,444.0 278.0,447.6 280.3,451.3 282.7,455.5 285.1,459.7 287.5,463.9 289.8,468.7 292.2,473.6 294.6,478.9 297.0,484.9 299.3,491.1 301.7,496.5 304.1,501.4 306.4,506.1 308.8,510.4 311.2,514.6 313.6,518.5 315.9,522.3 318.3,526.1 320.7,529.8 323.1,533.2 325.4,535.8 327.8,537.9 330.2,539.4 332.5,540.6 334.9,541.6 337.3,542.5 339.7,543.4 342.0,544.4 344.4,545.3 346.8,546.1 349.2,547.0 351.5,547.7 353.9,548.4 356.3,549.1 358.6,549.8 361.0,550.5 363.4,551.2 365.8,551.9 368.1,552.4 370.5,552.8 372.9,553.1 375.3,553.3 377.6,553.6 380.0,553.8 382.4,554.0 384.8,554.3 387.1,554.6 389.5,555.0 391.9,555.4 394.2,555.9 396.6,556.3 399.0,556.8 401.4,557.2 403.7,557.6 406.1,558.1 408.5,558.5 410.9,558.9" fill="none" stroke="#f00" stroke-width="0.9"/>
<polyline points="323.1,533.2 325.4,535.8 327.8,537.9 330.2,539.4 332.5,540.6 334.9,541.6 337.3,542.5 339.7,543.4 342.0,544.4 344.4,545.3 346.8,546.1 349.2,547.0 351.5,547.7 353.9,548.4 356.3,549.1 358.6,549.8 361.0,550.5 363.4,551.2 365.8,551.9 368.1,552.4 370.5,552.8 372.9,553.1 375.3,553.3 377.6,553.6 380.0,553.8 382.4,554.0 384.8,554.3 387.1,554.6 389.5,555.0 391.9,555.4 394.2,555.9 396.6,556.3 399.0,556.8 401.4,557.2 403.7,557.6 406.1,558.1 408.5,558.5 410.9,558.9" fill="none" stroke="#f00" stroke-width="5.2"/>
<rect x="242.1" y="528.7" width="5.2" height="5.2"/><rect x="244.5" y="531.3" width="5.2" height="5.2"/><rect x="246.9" y="532.5" width="5.2" height="5.2"/><rect x="249.3" y="536.3" width="5.2" height="5.2"/><rect x="251.6" y="533.0" width="5.2" height="5.2"/><rect x="254.0" y="480.7" width="5.2" height="5.2"/><rect x="256.4" y="411.9" width="5.2" height="5.2"/><rect x="258.8" y="395.2" width="5.2" height="5.2"/><rect x="261.1" y="396.0" width="5.2" height="5.2"/><rect x="263.5" y="404.2" width="5.2" height="5.2"/><rect x="265.9" y="417.9" width="5.2" height="5.2"/><rect x="268.2" y="425.2" width="5.2" height="5.2"/><rect x="270.6" y="432.4" width="5.2" height="5.2"/><rect x="273.0" y="441.4" width="5.2" height="5.2"/><rect x="275.4" y="445.0" width="5.2" height="5.2"/><rect x="277.7" y="448.7" width="5.2" height="5.2"/><rect x="280.1" y="452.9" width="5.2" height="5.2"/><rect x="282.5" y="457.1" width="5.2" height="5.2"/><rect x="284.9" y="461.3" width="5.2" height="5.2"/><rect x="287.2" y="466.1" width="5.2" height="5.2"/><rect x="289.6" y="471.0" width="5.2" height="5.2"/><rect x="292.0" y="476.3" width="5.2" height="5.2"/><rect x="294.4" y="482.3" width="5.2" height="5.2"/><rect x="296.7" y="488.5" width="5.2" height="5.2"/><rect x="299.1" y="493.9" width="5.2" height="5.2"/><rect x="301.5" y="498.8" width="5.2" height="5.2"/><rect x="303.8" y="503.5" width="5.2" height="5.2"/><rect x="306.2" y="507.8" width="5.2" height="5.2"/><rect x="308.6" y="512.0" width="5.2" height="5.2"/><rect x="311.0" y="515.9" width="5.2" height="5.2"/><rect x="313.3" y="519.7" width="5.2" height="5.2"/><rect x="315.7" y="523.5" width="5.2" height="5.2"/><rect x="318.1" y="527.2" width="5.2" height="5.2"/><rect x="320.5" y="530.6" width="5.2" height="5.2"/><rect x="322.8" y="533.2" width="5.2" height="5.2"/><rect x="325.2" y="535.3" width="5.2" height="5.2"/><rect x="327.6" y="536.8" width="5.2" height="5.2"/><rect x="329.9" y="538.0" width="5.2" height="5.2"/><rect x="332.3" y="539.0" width="5.2" height="5.2"/><rect x="334.7" y="539.9" width="5.2" height="5.2"/><rect x="337.1" y="540.8" width="5.2" height="5.2"/><rect x="339.4" y="541.8" width="5.2" height="5.2"/><rect x="341.8" y="542.7" width="5.2" height="5.2"/><rect x="344.2" y="543.5" width="5.2" height="5.2"/><rect x="346.6" y="544.4" width="5.2" height="5.2"/><rect x="348.9" y="545.1" width="5.2" height="5.2"/><rect x="351.3" y="545.8" width="5.2" height="5.2"/><rect x="353.7" y="546.5" width="5.2" height="5.2"/><rect x="356.0" y="547.2" width="5.2" height="5.2"/><rect x="358.4" y="547.9" width="5.2" height="5.2"/><rect x="360.8" y="548.6" width="5.2" height="5.2"/><rect x="363.2" y="549.3" width="5.2" height="5.2"/><rect x="365.5" y="549.8" width="5.2" height="5.2"/><rect x="367.9" y="550.2" width="5.2" height="5.2"/><rect x="370.3" y="550.5" width="5.2" height="5.2"/><rect x="372.7" y="550.7" width="5.2" height="5.2"/><rect x="375.0" y="551.0" width="5.2" height="5.2"/><rect x="377.4" y="551.2" width="5.2" height="5.2"/><rect x="379.8" y="551.4" width="5.2" height="5.2"/><rect x="382.2" y="551.7" width="5.2" height="5.2"/><rect x="384.5" y="552.0" width="5.2" height="5.2"/><rect x="386.9" y="552.4" width="5.2" height="5.2"/><rect x="389.3" y="552.8" width="5.2" height="5.2"/><rect x="391.6" y="553.3" width="5.2" height="5.2"/><rect x="394.0" y="553.7" width="5.2" height="5.2"/><rect x="396.4" y="554.2" width="5.2" height="5.2"/><rect x="398.8" y="554.6" width="5.2" height="5.2"/><rect x="401.1" y="555.0" width="5.2" height="5.2"/><rect x="403.5" y="555.5" width="5.2" height="5.2"/><rect x="405.9" y="555.9" width="5.2" height="5.2"/><rect x="408.3" y="556.3" width="5.2" height="5.2"/></g>
<line x1="254" y1="477.1" x2="313.2" y2="477.1" stroke="#000" stroke-width="1.9"/>
<g fill="#000"><polyline points="240.0,540.2 242.4,510.8 244.7,494.9 247.1,485.6 249.5,480.2 251.9,477.7 254.2,476.8 256.6,476.9 259.0,477.9 261.4,479.3 263.7,481.4 266.1,484.3 268.5,487.6 270.8,490.6 273.2,493.5 275.6,496.3 278.0,499.2 280.3,501.8 282.7,504.1 285.1,506.2 287.5,508.1 289.8,510.0 292.2,511.7 294.6,513.4 297.0,515.0 299.3,516.6 301.7,518.1 304.1,519.6 306.4,521.2 308.8,522.7 311.2,524.1 313.6,525.5 315.9,526.8 318.3,527.9 320.7,529.0 323.1,529.8 325.4,530.6 327.8,531.4 330.2,532.2 332.5,533.0 334.9,533.8 337.3,534.5 339.7,535.3 342.0,536.0 344.4,536.8 346.8,537.6 349.2,538.3 351.5,538.9 353.9,539.6 356.3,540.2 358.6,540.8 361.0,541.4 363.4,541.9 365.8,542.5 368.1,543.0 370.5,543.5 372.9,544.0 375.3,544.4 377.6,544.9 380.0,545.3 382.4,545.7 384.8,546.1 387.1,546.5 389.5,546.9 391.9,547.3 394.2,547.8 396.6,548.3 399.0,548.7 401.4,549.1 403.7,549.5 406.1,549.9 408.5,550.3 410.9,550.6 413.2,551.0 415.6,551.3 418.0,551.6 420.3,551.9 422.7,552.3 425.1,552.5 427.5,552.8 429.8,553.1 432.2,553.4 434.6,553.7 437.0,553.9 439.3,554.2 441.7,554.4 444.1,554.7 446.5,554.9 448.8,555.1 451.2,555.3 453.6,555.5 455.9,555.7 458.3,555.9 460.7,556.1 463.1,556.3 465.4,556.5 467.8,556.7 470.2,556.8 472.6,556.9 474.9,557.0 477.3,557.0" fill="none" stroke="#000" stroke-width="1.9"/>
<circle cx="240.0" cy="540.2" r="3.25"/><circle cx="242.4" cy="510.8" r="3.25"/><circle cx="244.7" cy="494.9" r="3.25"/><circle cx="247.1" cy="485.6" r="3.25"/><circle cx="249.5" cy="480.2" r="3.25"/><circle cx="251.9" cy="477.7" r="3.25"/><circle cx="254.2" cy="476.8" r="3.25"/><circle cx="256.6" cy="476.9" r="3.25"/><circle cx="259.0" cy="477.9" r="3.25"/><circle cx="261.4" cy="479.3" r="3.25"/><circle cx="263.7" cy="481.4" r="3.25"/><circle cx="266.1" cy="484.3" r="3.25"/><circle cx="268.5" cy="487.6" r="3.25"/><circle cx="270.8" cy="490.6" r="3.25"/><circle cx="273.2" cy="493.5" r="3.25"/><circle cx="275.6" cy="496.3" r="3.25"/><circle cx="278.0" cy="499.2" r="3.25"/><circle cx="280.3" cy="501.8" r="3.25"/><circle cx="282.7" cy="504.1" r="3.25"/><circle cx="285.1" cy="506.2" r="3.25"/><circle cx="287.5" cy="508.1" r="3.25"/><circle cx="289.8" cy="510.0" r="3.25"/><circle cx="292.2" cy="511.7" r="3.25"/><circle cx="294.6" cy="513.4" r="3.25"/><circle cx="297.0" cy="515.0" r="3.25"/><circle cx="299.3" cy="516.6" r="3.25"/><circle cx="301.7" cy="518.1" r="3.25"/><circle cx="304.1" cy="519.6" r="3.25"/><circle cx="306.4" cy="521.2" r="3.25"/><circle cx="308.8" cy="522.7" r="3.25"/><circle cx="311.2" cy="524.1" r="3.25"/><circle cx="313.6" cy="525.5" r="3.25"/><circle cx="315.9" cy="526.8" r="3.25"/><circle cx="318.3" cy="527.9" r="3.25"/><circle cx="320.7" cy="529.0" r="3.25"/><circle cx="323.1" cy="529.8" r="3.25"/><circle cx="325.4" cy="530.6" r="3.25"/><circle cx="327.8" cy="531.4" r="3.25"/><circle cx="330.2" cy="532.2" r="3.25"/><circle cx="332.5" cy="533.0" r="3.25"/><circle cx="334.9" cy="533.8" r="3.25"/><circle cx="337.3" cy="534.5" r="3.25"/><circle cx="339.7" cy="535.3" r="3.25"/><circle cx="342.0" cy="536.0" r="3.25"/><circle cx="344.4" cy="536.8" r="3.25"/><circle cx="346.8" cy="537.6" r="3.25"/><circle cx="349.2" cy="538.3" r="3.25"/><circle cx="351.5" cy="538.9" r="3.25"/><circle cx="353.9" cy="539.6" r="3.25"/><circle cx="356.3" cy="540.2" r="3.25"/><circle cx="358.6" cy="540.8" r="3.25"/><circle cx="361.0" cy="541.4" r="3.25"/><circle cx="363.4" cy="541.9" r="3.25"/><circle cx="365.8" cy="542.5" r="3.25"/><circle cx="368.1" cy="543.0" r="3.25"/><circle cx="370.5" cy="543.5" r="3.25"/><circle cx="372.9" cy="544.0" r="3.25"/><circle cx="375.3" cy="544.4" r="3.25"/><circle cx="377.6" cy="544.9" r="3.25"/><circle cx="380.0" cy="545.3" r="3.25"/><circle cx="382.4" cy="545.7" r="3.25"/><circle cx="384.8" cy="546.1" r="3.25"/><circle cx="387.1" cy="546.5" r="3.25"/><circle cx="389.5" cy="546.9" r="3.25"/><circle cx="391.9" cy="547.3" r="3.25"/><circle cx="394.2" cy="547.8" r="3.25"/><circle cx="396.6" cy="548.3" r="3.25"/><circle cx="399.0" cy="548.7" r="3.25"/><circle cx="401.4" cy="549.1" r="3.25"/><circle cx="403.7" cy="549.5" r="3.25"/><circle cx="406.1" cy="549.9" r="3.25"/><circle cx="408.5" cy="550.3" r="3.25"/><circle cx="410.9" cy="550.6" r="3.25"/><circle cx="413.2" cy="551.0" r="3.25"/><circle cx="415.6" cy="551.3" r="3.25"/><circle cx="418.0" cy="551.6" r="3.25"/><circle cx="420.3" cy="551.9" r="3.25"/><circle cx="422.7" cy="552.3" r="3.25"/><circle cx="425.1" cy="552.5" r="3.25"/><circle cx="427.5" cy="552.8" r="3.25"/><circle cx="429.8" cy="553.1" r="3.25"/><circle cx="432.2" cy="553.4" r="3.25"/><circle cx="434.6" cy="553.7" r="3.25"/><circle cx="437.0" cy="553.9" r="3.25"/><circle cx="439.3" cy="554.2" r="3.25"/><circle cx="441.7" cy="554.4" r="3.25"/><circle cx="444.1" cy="554.7" r="3.25"/><circle cx="446.5" cy="554.9" r="3.25"/><circle cx="448.8" cy="555.1" r="3.25"/><circle cx="451.2" cy="555.3" r="3.25"/><circle cx="453.6" cy="555.5" r="3.25"/><circle cx="455.9" cy="555.7" r="3.25"/><circle cx="458.3" cy="555.9" r="3.25"/><circle cx="460.7" cy="556.1" r="3.25"/><circle cx="463.1" cy="556.3" r="3.25"/><circle cx="465.4" cy="556.5" r="3.25"/><circle cx="467.8" cy="556.7" r="3.25"/><circle cx="470.2" cy="556.8" r="3.25"/><circle cx="472.6" cy="556.9" r="3.25"/><circle cx="474.9" cy="557.0" r="3.25"/><circle cx="477.3" cy="557.0" r="3.25"/></g>
<rect x="313.7" y="466.6" width="51.5" height="22.2" fill="#fff" stroke="#000" stroke-width="1.5"/>
<line x1="312.9" y1="469.7" x2="312.9" y2="484.5" stroke="#000" stroke-width="1.6"/>
<text class="lg" x="339.3" y="482.8" text-anchor="middle">330 nm</text>
<g class="ct" style="font-size:12.2px"><text x="240.0" y="579.6" text-anchor="middle">300</text><text x="263.7" y="579.6" text-anchor="middle">350</text><text x="287.5" y="579.6" text-anchor="middle">400</text><text x="311.2" y="579.6" text-anchor="middle">450</text><text x="334.9" y="579.6" text-anchor="middle">500</text><text x="358.6" y="579.6" text-anchor="middle">550</text><text x="382.4" y="579.6" text-anchor="middle">600</text><text x="406.1" y="579.6" text-anchor="middle">650</text><text x="429.8" y="579.6" text-anchor="middle">700</text><text x="453.6" y="579.6" text-anchor="middle">750</text><text x="477.3" y="579.6" text-anchor="middle">800</text></g>
<g class="ct" style="font-size:12.8px">
<text x="221.9" y="450.6" text-anchor="end">1.0</text>
<text x="221.9" y="513.5" text-anchor="end">0.5</text>
</g>
<text transform="translate(195.6,535.6) rotate(-90)" textLength="111.6" lengthAdjust="spacingAndGlyphs" style="font-weight:bold;font-size:19.8px">Absorbance</text>
<text x="324.5" y="607.2" style="font-family:'Liberation Serif','DejaVu Serif',serif;font-size:19px">λ</text>
<text x="341.8" y="606.8" style="font-weight:bold;font-size:19.6px">(nm)</text>
<!-- legend -->
<line x1="435" y1="456.2" x2="452.8" y2="456.2" stroke="#000" stroke-width="1.6"/>
<circle cx="443.9" cy="456.2" r="3.15" fill="#000"/>
<text class="lg" x="462.5" y="461.3">PNPs</text>
<line x1="435" y1="491.5" x2="452.8" y2="491.5" stroke="#f00" stroke-width="0.9"/>
<rect x="441.2" y="488.8" width="5.4" height="5.4" fill="#f00"/>
<text class="lg" x="462.5" y="488.3">Crude extract</text>
<text class="lg" x="462.5" y="503.8" font-style="italic" style="font-size:13.8px">B. macrocarpa</text>
</svg>
</body></html>
